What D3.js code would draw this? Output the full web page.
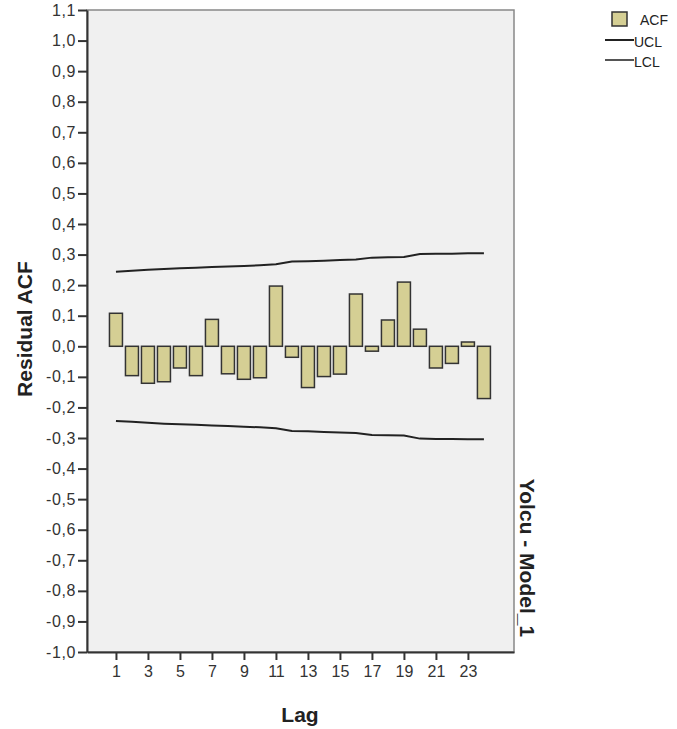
<!DOCTYPE html>
<html>
<head>
<meta charset="utf-8">
<script src="https://cdn.jsdelivr.net/npm/d3@7"></script>
<style>
  body { margin: 0; background: #fff; }
  svg { font-family: "Liberation Sans", Arial, sans-serif; }
</style>
</head>
<body>
<div id="chart"></div>
<script>
// lags and residual ACF values
var lags = [1, 2, 3, 4, 5, 6, 7, 8, 9, 10, 11, 12, 13, 14, 15, 16, 17, 18, 19, 20, 21, 22, 23, 24];
var acf = [0.108, -0.096, -0.121, -0.116, -0.071, -0.096, 0.088, -0.090, -0.108, -0.103, 0.197, -0.036,
           -0.135, -0.099, -0.091, 0.171, -0.016, 0.086, 0.210, 0.056, -0.071, -0.056, 0.014, -0.171];
var ucl = [0.244, 0.247, 0.250, 0.253, 0.255, 0.257, 0.259, 0.261, 0.263, 0.265, 0.268, 0.277,
           0.278, 0.280, 0.282, 0.284, 0.290, 0.291, 0.292, 0.302, 0.303, 0.303, 0.304, 0.304];
var lcl = ucl.map(function(d) { return -d; });
var yTicks = d3.range(-10, 12).map(function(d) { return d / 10; });
var xTicks = [1, 3, 5, 7, 9, 11, 13, 15, 17, 19, 21, 23];

var W = 677, H = 729;
var pL = 87, pR = 514, pT = 10, pB = 652;

var svg = d3.select("#chart").append("svg")
  .attr("width", W)
  .attr("height", H);

var x = d3.scaleLinear().domain([-0.81, 25.88]).range([pL, pR]);
var y = d3.scaleLinear().domain([-1.0, 1.1]).range([pB, pT]);

// plot background
svg.append("rect")
  .attr("x", pL).attr("y", pT)
  .attr("width", pR - pL).attr("height", pB - pT)
  .attr("fill", "#f0f0f0")
  .attr("stroke", "#888")
  .attr("stroke-width", 1.5);

// bars
var bw = 13;
svg.append("g").selectAll("rect")
  .data(lags)
  .enter().append("rect")
  .attr("x", function(d) { return x(d) - bw / 2; })
  .attr("y", function(d, i) { return y(Math.max(0, acf[i])); })
  .attr("width", bw)
  .attr("height", function(d, i) { return Math.abs(y(acf[i]) - y(0)); })
  .attr("fill", "#d5cf94")
  .attr("stroke", "#333")
  .attr("stroke-width", 1.5);

// confidence limits
var line = d3.line()
  .x(function(d) { return x(d[0]); })
  .y(function(d) { return y(d[1]); });

[ucl, lcl].forEach(function(arr) {
  svg.append("path")
    .datum(lags.map(function(l, i) { return [l, arr[i]]; }))
    .attr("fill", "none")
    .attr("stroke", "#222")
    .attr("stroke-width", 2)
    .attr("d", line);
});

// axes
var yAxis = d3.axisLeft(y)
  .tickValues(yTicks)
  .tickSize(9)
  .tickSizeOuter(0)
  .tickFormat(function(d) { return d3.format(".1f")(d).replace(".", ",").replace("\u2212", "-"); });

var gy = svg.append("g")
  .attr("transform", "translate(" + pL + ",0)")
  .call(yAxis);
gy.attr("font-family", null);
gy.select(".domain").attr("stroke", "#333").attr("stroke-width", 2);
gy.selectAll(".tick line").attr("stroke", "#333").attr("stroke-width", 2);
gy.selectAll(".tick text")
  .attr("font-size", 16)
  .attr("letter-spacing", 0.6)
  .attr("fill", "#333")
  .attr("x", -11);

var xAxis = d3.axisBottom(x)
  .tickValues(xTicks)
  .tickSize(8)
  .tickSizeOuter(0)
  .tickFormat(d3.format("d"));

var gx = svg.append("g")
  .attr("transform", "translate(0," + pB + ")")
  .call(xAxis);
gx.attr("font-family", null);
gx.select(".domain").attr("stroke", "#333").attr("stroke-width", 2);
gx.selectAll(".tick line").attr("stroke", "#333").attr("stroke-width", 2);
gx.selectAll(".tick text").attr("font-size", 16).attr("fill", "#333").attr("y", 14);

// axis titles
svg.append("text")
  .attr("x", 300)
  .attr("y", 722)
  .attr("text-anchor", "middle")
  .attr("font-size", 21)
  .attr("font-weight", "bold")
  .attr("fill", "#222")
  .text("Lag");

svg.append("text")
  .attr("transform", "translate(32,329) rotate(-90)")
  .attr("text-anchor", "middle")
  .attr("font-size", 21)
  .attr("font-weight", "bold")
  .attr("fill", "#222")
  .text("Residual ACF");

svg.append("text")
  .attr("transform", "translate(520,558) rotate(90)")
  .attr("text-anchor", "middle")
  .attr("font-size", 21)
  .attr("font-weight", "bold")
  .attr("fill", "#222")
  .text("Yolcu - Model_1");

// legend
var lg = svg.append("g");
lg.append("rect")
  .attr("x", 612).attr("y", 12)
  .attr("width", 15).attr("height", 14)
  .attr("fill", "#d5cf94")
  .attr("stroke", "#333")
  .attr("stroke-width", 1.5);
lg.append("text").attr("x", 640).attr("y", 25).attr("font-size", 14).attr("fill", "#222").text("ACF");
lg.append("line").attr("x1", 605).attr("x2", 634).attr("y1", 40).attr("y2", 40)
  .attr("stroke", "#222").attr("stroke-width", 2);
lg.append("text").attr("x", 634).attr("y", 47).attr("font-size", 14).attr("fill", "#222").text("UCL");
lg.append("line").attr("x1", 605).attr("x2", 634).attr("y1", 60).attr("y2", 60)
  .attr("stroke", "#555").attr("stroke-width", 2);
lg.append("text").attr("x", 634).attr("y", 67).attr("font-size", 14).attr("fill", "#222").text("LCL");
</script>
</body>
</html>
